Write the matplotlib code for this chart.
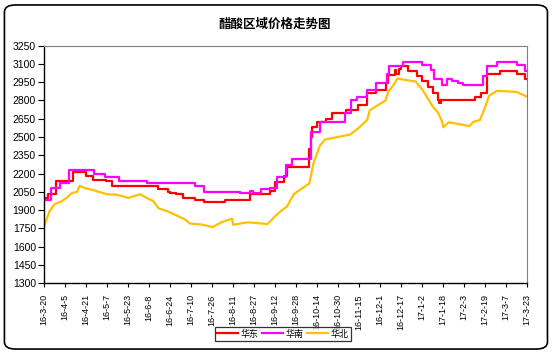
import matplotlib
matplotlib.use('Agg')
import matplotlib.pyplot as plt
from matplotlib.patches import FancyBboxPatch
import pandas as pd

plt.rcParams['font.family'] = ['Noto Sans CJK SC', 'DejaVu Sans']

# -------------------------------------------------
# Data (change points)
# -------------------------------------------------
east_dates = ['2016-03-20', '2016-03-23', '2016-03-29', '2016-04-11', '2016-04-21', '2016-04-26',
              '2016-05-06', '2016-05-11', '2016-06-15', '2016-06-22', '2016-06-24', '2016-06-28',
              '2016-07-04', '2016-07-13', '2016-07-20', '2016-08-05', '2016-08-24', '2016-09-08',
              '2016-09-12', '2016-09-19', '2016-09-21', '2016-10-08', '2016-10-09', '2016-10-10',
              '2016-10-14', '2016-10-21', '2016-10-25', '2016-11-05', '2016-11-14', '2016-11-21',
              '2016-11-28', '2016-12-05', '2016-12-07', '2016-12-12', '2016-12-13', '2016-12-15',
              '2016-12-17', '2016-12-22', '2016-12-29', '2017-01-02', '2017-01-06', '2017-01-10',
              '2017-01-14', '2017-01-15', '2017-01-16', '2017-02-11', '2017-02-16', '2017-02-20',
              '2017-03-02', '2017-03-15', '2017-03-21', '2017-03-23']
east_vals = [2000, 2030, 2140, 2210, 2180, 2150,
             2140, 2100, 2070, 2050, 2040, 2030,
             2000, 1985, 1970, 1980, 2030, 2060,
             2130, 2180, 2250, 2400, 2500, 2580,
             2620, 2650, 2700, 2720, 2760, 2860,
             2890, 2940, 3010, 3050, 3020, 3060,
             3080, 3040, 3000, 2960, 2910, 2860,
             2800, 2780, 2800, 2830, 2860, 3020,
             3040, 3020, 2980, 2980]

south_dates = ['2016-03-20', '2016-03-25', '2016-04-01', '2016-04-08', '2016-04-27', '2016-05-05',
               '2016-05-16', '2016-06-06', '2016-07-13', '2016-07-20', '2016-08-16', '2016-08-24',
               '2016-08-26', '2016-09-01', '2016-09-08', '2016-09-13', '2016-09-20', '2016-09-25',
               '2016-10-09', '2016-10-16', '2016-11-04', '2016-11-09', '2016-11-13', '2016-11-21',
               '2016-11-28', '2016-12-06', '2016-12-08', '2016-12-18', '2017-01-02', '2017-01-09',
               '2017-01-11', '2017-01-17', '2017-01-21', '2017-01-25', '2017-01-29', '2017-02-02',
               '2017-02-17', '2017-02-20', '2017-02-28', '2017-03-15', '2017-03-21', '2017-03-23']
south_vals = [1980, 2080, 2120, 2230, 2200, 2170,
              2140, 2120, 2100, 2050, 2040, 2060,
              2040, 2070, 2080, 2175, 2270, 2320,
              2540, 2620, 2700, 2800, 2830, 2890,
              2940, 3020, 3080, 3120, 3090, 3050,
              2980, 2930, 2980, 2960, 2940, 2930,
              3000, 3080, 3120, 3090, 3040, 3040]

north_dates = ['2016-03-20', '2016-03-21', '2016-03-24', '2016-03-28', '2016-04-02', '2016-04-06',
               '2016-04-10', '2016-04-14', '2016-04-16', '2016-04-20', '2016-04-26', '2016-05-07',
               '2016-05-15', '2016-05-23', '2016-06-01', '2016-06-06', '2016-06-11', '2016-06-15',
               '2016-06-22', '2016-06-28', '2016-07-05', '2016-07-09', '2016-07-19', '2016-07-26',
               '2016-08-02', '2016-08-10', '2016-08-11', '2016-08-22', '2016-09-02', '2016-09-06',
               '2016-09-12', '2016-09-16', '2016-09-21', '2016-09-26', '2016-10-08', '2016-10-11',
               '2016-10-16', '2016-10-20', '2016-11-08', '2016-11-14', '2016-11-21', '2016-11-23',
               '2016-12-05', '2016-12-07', '2016-12-12', '2016-12-14', '2016-12-28', '2017-01-02',
               '2017-01-06', '2017-01-10', '2017-01-14', '2017-01-17', '2017-01-18', '2017-01-22',
               '2017-01-28', '2017-02-07', '2017-02-10', '2017-02-15', '2017-02-18', '2017-02-22',
               '2017-02-28', '2017-03-15', '2017-03-19', '2017-03-23']
north_vals = [1770, 1800, 1890, 1950, 1970, 2000,
              2040, 2050, 2100, 2080, 2065, 2030,
              2025, 2000, 2030, 2000, 1975, 1915,
              1890, 1860, 1825, 1790, 1780, 1760,
              1800, 1830, 1780, 1800, 1790, 1785,
              1850, 1890, 1930, 2030, 2120, 2280,
              2430, 2480, 2520, 2570, 2640, 2720,
              2800, 2870, 2940, 2980, 2955, 2890,
              2820, 2750, 2700, 2630, 2580, 2620,
              2610, 2590, 2625, 2640, 2720, 2840,
              2880, 2870, 2850, 2830]

tick_dates = pd.date_range('2016-03-20', periods=24, freq='16D')
y_ticks = list(range(1300, 3251, 150))

# -------------------------------------------------
# Plot
# -------------------------------------------------
fig = plt.figure(figsize=(5.53, 3.54), dpi=100)
fig.patches.append(FancyBboxPatch((0.008, 0.014), 0.982, 0.972,
                                  boxstyle='round,pad=0,rounding_size=0.02',
                                  transform=fig.transFigure, fill=False,
                                  edgecolor='black', linewidth=1.2))

ax = fig.add_axes([0.080, 0.200, 0.8735, 0.671])
ax.plot(pd.to_datetime(east_dates), east_vals, color='#FF0000', lw=1.6,
        drawstyle='steps-post', label='华东')
ax.plot(pd.to_datetime(south_dates), south_vals, color='#FF00FF', lw=1.6,
        drawstyle='steps-post', label='华南')
ax.plot(pd.to_datetime(north_dates), north_vals, color='#FFC000', lw=1.6,
        label='华北')

ax.set_xlim(pd.Timestamp('2016-03-20'), pd.Timestamp('2017-03-23'))
ax.set_ylim(1300, 3250)
ax.set_yticks(y_ticks)
ax.set_xticks(tick_dates)
ax.set_xticklabels([f"{d.year % 100}-{d.month}-{d.day}" for d in tick_dates],
                   rotation=90, fontsize=6.5, family='Liberation Sans')
for lab in ax.get_yticklabels():
    lab.set_fontsize(7.5)
    lab.set_family('Liberation Sans')
ax.tick_params(axis='y', direction='out', length=4, width=0.8, pad=2)
ax.tick_params(axis='x', direction='out', length=3, width=0.8, pad=5)

for s in ['top', 'right']:
    ax.spines[s].set_color('#808080')
for s in ['left', 'bottom']:
    ax.spines[s].set_color('black')
    ax.spines[s].set_linewidth(1.0)

fig.text(0.497, 0.932, '醋酸区域价格走势图', ha='center', va='center',
         fontsize=9, fontweight='bold')

leg = fig.legend(loc='center', bbox_to_anchor=(0.512, 0.0565), ncol=3,
                 fontsize=6.5, frameon=True, fancybox=False, edgecolor='black',
                 handlelength=2.3, handletextpad=0.3, columnspacing=0.4,
                 borderpad=0.25, borderaxespad=0)
leg.get_frame().set_linewidth(0.9)
leg.set_zorder(10)

fig.savefig('out.png', dpi=100)
